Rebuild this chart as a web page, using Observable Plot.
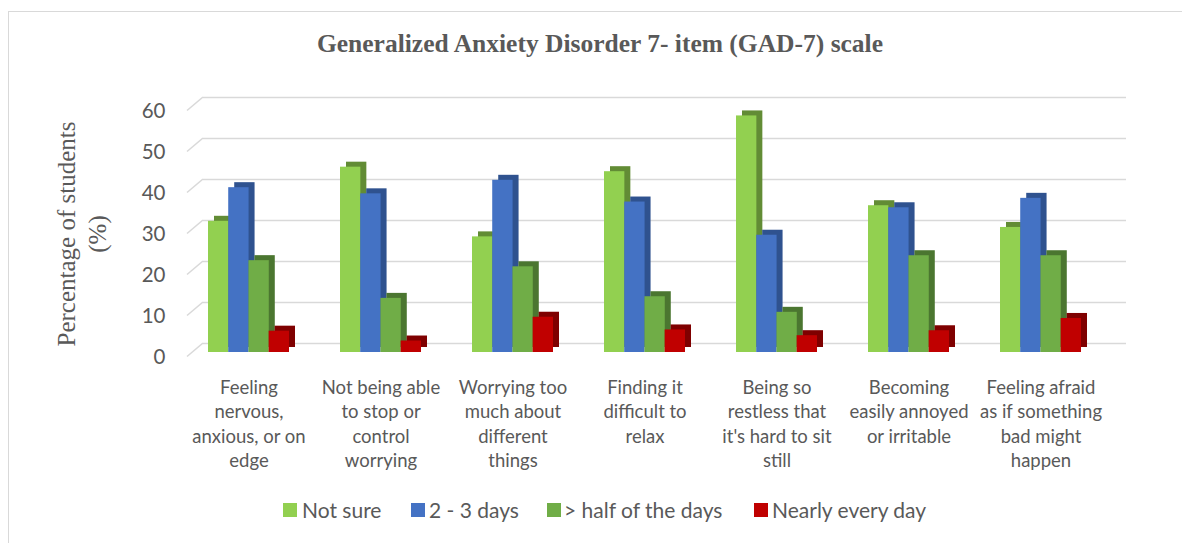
<!DOCTYPE html>
<html><head><meta charset="utf-8">
<script src="https://cdn.jsdelivr.net/npm/d3@7"></script>
<script src="https://cdn.jsdelivr.net/npm/@observablehq/plot@0.6"></script>
<style>
body{margin:0;background:#fff;}
#wrap{position:relative;width:1182px;height:543px;overflow:hidden;font-family:Lato,sans-serif;color:#595959;}
#frame{position:absolute;left:8px;top:11px;width:1300px;height:700px;border-left:1.5px solid #d9d9d9;border-top:1.5px solid #d9d9d9;}
#title{position:absolute;top:29px;left:18px;width:1164px;text-align:center;font:bold 25.5px "Liberation Serif",serif;line-height:30px;color:#595959;}
#ylabel{position:absolute;left:-68px;top:203px;width:300px;height:62px;text-align:center;font:25px "Liberation Serif",serif;line-height:31px;color:#595959;transform:rotate(-90deg);transform-origin:150px 31px;}
#chart{position:absolute;left:0;top:0;}
.sw{position:absolute;top:503px;width:13.5px;height:13.5px;}
.lt{position:absolute;top:496px;font-size:21px;line-height:27px;color:#595959;white-space:nowrap;}
</style></head>
<body>
<div id="wrap">
  <div id="frame"></div>
  <div id="chart"></div>
  <div id="title">Generalized Anxiety Disorder 7- item (GAD-7) scale</div>
  <div id="ylabel">Percentage of students<br>(%)</div>
  <div id="legend"></div>
</div>
<script>
const categories = [
  "Feeling\nnervous,\nanxious, or on\nedge",
  "Not being able\nto stop or\ncontrol\nworrying",
  "Worrying too\nmuch about\ndifferent\nthings",
  "Finding it\ndifficult to\nrelax",
  "Being so\nrestless that\nit's hard to sit\nstill",
  "Becoming\neasily annoyed\nor irritable",
  "Feeling afraid\nas if something\nbad might\nhappen"
];
const seriesNames = ["Not sure", "2 - 3 days", "> half of the days", "Nearly every day"];
const notSure  = [32.0, 45.2, 28.2, 44.1, 57.7, 35.8, 30.5];
const days2to3 = [40.2, 38.7, 42.0, 36.7, 28.6, 35.3, 37.6];
const halfDays = [22.4, 13.2, 20.9, 13.6, 9.8, 23.6, 23.6];
const nearly   = [5.2, 2.8, 8.6, 5.5, 4.1, 5.3, 8.3];
const yTicks = [0, 10, 20, 30, 40, 50, 60];

const seriesValues = [notSure, days2to3, halfDays, nearly];
const frontColors = ["#92D050", "#4472C4", "#70AD47", "#C00000"];
const sideColors  = ["#628C35", "#2F528F", "#4B7630", "#7F0000"];

const table = categories.flatMap((c, i) => seriesValues.map((vals, j) => ({cat: c, j, series: seriesNames[j], value: vals[i]})));

const W = 1182, H = 470, mL = 180, mR = 74, mT = 106, mB = 118;
const padIn = 0.39, padOut = 0.195;
const step = (W - mL - mR) / (categories.length - padIn + 2 * padOut);
const bw = step * (1 - padIn) / 4;

const grid = "#d9d9d9";
function slants(index, scales, values, dims) {
  const g = d3.create("svg:g");
  for (const t of yTicks) {
    const y = scales.y(t);
    g.append("line")
      .attr("x1", dims.marginLeft + 7).attr("y1", y + 4.5)
      .attr("x2", dims.marginLeft + 23).attr("y2", y - 9)
      .attr("stroke", grid).attr("stroke-width", 1.6);
  }
  return g.node();
}

const marks = [
  Plot.ruleY(yTicks, {stroke: grid, strokeWidth: 1.6, dx: 18, dy: -9, insetLeft: 5}),
  slants,
  Plot.axisY(yTicks, {tickSize: 0, tickPadding: 15, dy: 4.5, fontSize: 20.5, fill: "#595959", label: null})
];
seriesNames.forEach((s, j) => {
  marks.push(Plot.barY(table.filter(d => d.j === j), {
    x: "cat", y: "value", fill: sideColors[j], dx: 6, dy: -5,
    insetLeft: j * bw, insetRight: (3 - j) * bw
  }));
});
seriesNames.forEach((s, j) => {
  marks.push(Plot.barY(table.filter(d => d.j === j), {
    x: "cat", y: "value", fill: frontColors[j],
    insetLeft: j * bw, insetRight: (3 - j) * bw
  }));
});
marks.push(Plot.text(categories, {
  x: d => d, text: d => d, frameAnchor: "bottom", dy: 24, lineAnchor: "top",
  lineHeight: 1.32, fontSize: 18.5, fill: "#595959"
}));

const chart = Plot.plot({
  width: W, height: H,
  marginLeft: mL, marginRight: mR, marginTop: mT, marginBottom: mB,
  style: {fontFamily: "Lato, sans-serif", color: "#595959", background: "transparent", overflow: "visible"},
  x: {domain: categories, axis: null, paddingInner: padIn, paddingOuter: padOut},
  y: {domain: [0, 60], axis: null, label: null},
  marks
});
document.getElementById("chart").appendChild(chart);

const legend = document.getElementById("legend");
const swX = [283, 411, 547, 754];
const txX = [302, 429, 564, 772];
seriesNames.forEach((s, j) => {
  const sw = document.createElement("div");
  sw.className = "sw"; sw.style.left = swX[j] + "px"; sw.style.background = frontColors[j];
  legend.appendChild(sw);
  const t = document.createElement("div");
  t.className = "lt"; t.style.left = txX[j] + "px"; t.textContent = s;
  legend.appendChild(t);
});
</script>
</body></html>
